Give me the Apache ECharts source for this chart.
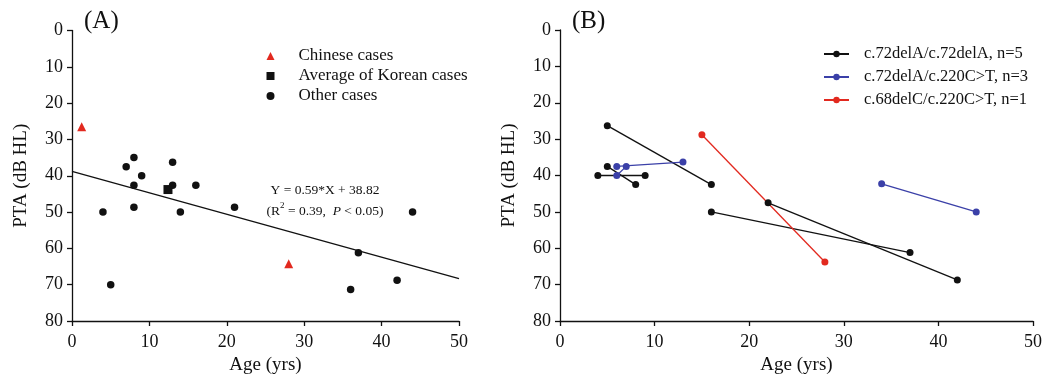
<!DOCTYPE html>
<html>
<head>
<meta charset="utf-8">
<script src="https://cdn.jsdelivr.net/npm/echarts@6/dist/echarts.min.js"></script>
<style>html,body{margin:0;padding:0;background:#fff}#c{width:1057px;height:374px}</style>
</head>
<body>
<div id="c"></div>
<script>
// ---- Panel A data ----
const chineseCases = [[1.25, 26.5], [28, 64.2]];
const koreanAverage = [[12.4, 43.8]];
const otherCases = [[4, 50], [5, 70], [7, 37.5], [8, 35], [8, 42.6], [8, 48.7], [9, 40],
  [13, 36.3], [13, 42.6], [14, 50], [16, 42.6], [21, 48.7], [37, 61.2], [36, 71.3], [42, 68.8], [44, 50]];
const regressionLine = [[0, 38.82], [50, 68.32]];
const regressionText = ['Y = 0.59*X + 38.82', '(R{sup|2} = 0.39,  {i|P} < 0.05)'];

// ---- Panel B data (each pair = one patient) ----
const homo72delA = [
  [[5, 26.3], [16, 42.5]],
  [[5, 37.5], [8, 42.5]],
  [[4, 40], [9, 40]],
  [[16, 50], [37, 61.2]],
  [[22, 47.5], [42, 68.7]]
];
const c72_c220 = [
  [[6, 37.5], [13, 36.3]],
  [[6, 40], [7, 37.5]],
  [[34, 42.3], [44, 50]]
];
const c68_c220 = [
  [[15, 28.8], [28, 63.8]]
];

const yTicks = [0, 80, 10];
const xTicks = [0, 50, 10];
const legendA = ['Chinese cases', 'Average of Korean cases', 'Other cases'];
const legendB = ['c.72delA/c.72delA, n=5', 'c.72delA/c.220C>T, n=3', 'c.68delC/c.220C>T, n=1'];

const RED = '#e2291f', BLUE = '#3b40a8', BLACK = '#111';
const FONT = 'Liberation Serif';

function xAxis(gi) {
  return {
    gridIndex: gi, type: 'value', min: xTicks[0], max: xTicks[1], interval: xTicks[2],
    name: 'Age (yrs)', nameLocation: 'middle', nameGap: 33,
    nameTextStyle: { fontFamily: FONT, fontSize: 19, color: '#111' },
    axisLine: { show: true, onZero: false, lineStyle: { color: '#111', width: 1.3 } },
    axisTick: { show: true, length: 5, lineStyle: { color: '#111', width: 1.3 } },
    axisLabel: { fontFamily: FONT, fontSize: 18, color: '#111', margin: 12 },
    splitLine: { show: false }
  };
}
function yAxis(gi) {
  return {
    gridIndex: gi, type: 'value', inverse: true, min: yTicks[0], max: yTicks[1], interval: yTicks[2],
    name: 'PTA (dB HL)', nameLocation: 'middle', nameGap: 41,
    nameTextStyle: { fontFamily: FONT, fontSize: 19, color: '#111' },
    axisLine: { show: true, onZero: false, lineStyle: { color: '#111', width: 1.3 } },
    axisTick: { show: true, length: 5, lineStyle: { color: '#111', width: 1.3 } },
    axisLabel: { fontFamily: FONT, fontSize: 18, color: '#111', margin: 9 },
    splitLine: { show: false }
  };
}

const series = [
  { name: legendA[0], type: 'scatter', xAxisIndex: 0, yAxisIndex: 0, symbol: 'triangle', symbolSize: 9,
    itemStyle: { color: RED, opacity: 1 }, data: chineseCases, z: 5 },
  { name: legendA[1], type: 'scatter', xAxisIndex: 0, yAxisIndex: 0, symbol: 'rect', symbolSize: 9,
    itemStyle: { color: BLACK, opacity: 1 }, data: koreanAverage, z: 5 },
  { name: legendA[2], type: 'scatter', xAxisIndex: 0, yAxisIndex: 0, symbol: 'circle', symbolSize: 7.5,
    itemStyle: { color: BLACK, opacity: 1 }, data: otherCases, z: 5 },
  { name: 'fit', type: 'line', xAxisIndex: 0, yAxisIndex: 0, showSymbol: false, silent: true,
    lineStyle: { color: BLACK, width: 1.3 }, data: regressionLine, z: 3 }
];
function addGroup(name, color, groups) {
  groups.forEach(seg => series.push({
    name: name, type: 'line', xAxisIndex: 1, yAxisIndex: 1, symbol: 'circle', symbolSize: 7,
    showSymbol: true, itemStyle: { color: color, opacity: 1 }, lineStyle: { color: color, width: 1.3 }, data: seg
  }));
}
addGroup(legendB[0], BLACK, homo72delA);
addGroup(legendB[1], BLUE, c72_c220);
addGroup(legendB[2], RED, c68_c220);

const chart = echarts.init(document.getElementById('c'), null, { renderer: 'canvas' });
chart.setOption({
  animation: false,
  backgroundColor: '#fff',
  grid: [
    { left: 72, width: 387, top: 30.5, height: 290.5, containLabel: false, outerBoundsMode: 'none' },
    { left: 560, width: 473, top: 30, height: 291, containLabel: false, outerBoundsMode: 'none' }
  ],
  xAxis: [xAxis(0), xAxis(1)],
  yAxis: [yAxis(0), yAxis(1)],
  legend: [
    { data: legendA, orient: 'vertical', left: 266.5, top: 46, padding: 0, itemWidth: 8, itemHeight: 8, itemGap: 0,
      textStyle: { fontFamily: FONT, fontSize: 17, color: '#111', lineHeight: 20, padding: [0, 0, 0, 19] } },
    { data: legendB, orient: 'vertical', left: 823, top: 42.5, padding: 0, itemWidth: 25, itemHeight: 8, itemGap: 0,
      textStyle: { fontFamily: FONT, fontSize: 16.5, color: '#111', lineHeight: 23, padding: [0, 0, 0, 10] } }
  ],
  graphic: [
    { type: 'text', left: 84, top: 9, style: { text: '(A)', font: '25px "Liberation Serif"', fill: '#111' } },
    { type: 'text', left: 572, top: 9, style: { text: '(B)', font: '25px "Liberation Serif"', fill: '#111' } },
    { type: 'text', x: 325, y: 180, style: {
        text: regressionText.join('\n'), align: 'center', verticalAlign: 'top',
        font: '13.5px "Liberation Serif"', fill: '#111', lineHeight: 21,
        rich: {
          sup: { fontFamily: FONT, fontSize: 9, lineHeight: 21, verticalAlign: 'top', padding: [0, 0, 6, 0], fill: '#111' },
          i: { fontFamily: FONT, fontSize: 13.5, fontStyle: 'italic', lineHeight: 21, fill: '#111' }
        } } }
  ],
  series: series
});
</script>
</body>
</html>
